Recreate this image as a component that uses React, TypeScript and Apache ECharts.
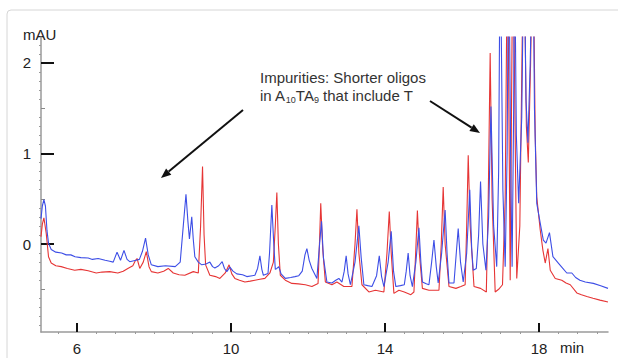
import React, { useEffect, useRef } from "react";
import * as echarts from "echarts";

// Chromatogram traces: [retention time (min), absorbance (mAU)]
const blueTrace: [number, number][] = [
  [5.065, 0.28], [5.1, 0.42], [5.14, 0.49], [5.18, 0.42], [5.22, 0.15], [5.26, 0.01], [5.33, -0.06], [5.45, -0.09],
  [5.6, -0.1], [5.72, -0.12], [5.84, -0.12], [5.95, -0.14], [6.1, -0.15], [6.29, -0.155], [6.4, -0.17], [6.55, -0.16],
  [6.73, -0.18], [6.85, -0.19], [6.94, -0.2], [7.04, -0.09], [7.13, -0.18], [7.22, -0.07], [7.3, -0.17], [7.37, -0.195],
  [7.53, -0.18], [7.62, -0.17], [7.7, -0.08], [7.78, 0.066], [7.85, -0.12], [7.93, -0.23], [8.1, -0.25], [8.3, -0.24],
  [8.55, -0.25], [8.68, -0.2], [8.76, 0.2], [8.83, 0.55], [8.88, 0.25], [8.92, 0.055], [8.98, 0.3], [9.02, 0.05],
  [9.06, -0.14], [9.15, -0.2], [9.24, -0.23], [9.35, -0.22], [9.45, -0.2], [9.52, -0.25], [9.58, -0.265], [9.68, -0.24],
  [9.77, -0.195], [9.83, -0.27], [9.89, -0.305], [9.97, -0.255], [10.05, -0.3], [10.15, -0.33], [10.3, -0.34], [10.41, -0.36],
  [10.55, -0.35], [10.62, -0.345], [10.69, -0.27], [10.75, -0.13], [10.8, -0.28], [10.84, -0.345], [10.96, -0.325], [11.0, -0.1],
  [11.06, 0.43], [11.11, 0.0], [11.15, -0.28], [11.19, -0.27], [11.24, -0.25], [11.3, -0.33], [11.41, -0.38], [11.55, -0.37],
  [11.66, -0.36], [11.76, -0.35], [11.85, -0.3], [11.92, -0.12], [11.97, -0.05], [12.03, -0.18], [12.1, -0.27], [12.23, -0.38],
  [12.3, 0.0], [12.35, 0.25], [12.4, -0.15], [12.49, -0.42], [12.62, -0.43], [12.72, -0.4], [12.8, -0.38], [12.88, -0.42],
  [12.94, -0.3], [12.99, -0.13], [13.04, -0.33], [13.1, -0.45], [13.22, -0.2], [13.32, 0.2], [13.38, -0.15], [13.45, -0.45],
  [13.55, -0.46], [13.66, -0.47], [13.78, -0.35], [13.85, -0.13], [13.91, -0.36], [13.97, -0.47], [14.08, -0.2], [14.16, 0.14],
  [14.22, -0.3], [14.28, -0.47], [14.4, -0.46], [14.5, -0.45], [14.55, -0.3], [14.6, -0.1], [14.65, -0.35], [14.71, -0.47],
  [14.8, -0.2], [14.88, 0.18], [14.93, -0.2], [14.97, -0.42], [15.07, -0.44], [15.14, -0.45], [15.21, -0.2], [15.27, 0.044],
  [15.33, -0.25], [15.38, -0.43], [15.47, -0.1], [15.56, 0.375], [15.61, -0.1], [15.66, -0.43], [15.79, -0.43], [15.85, -0.1],
  [15.9, 0.17], [15.96, -0.2], [16.03, -0.42], [16.12, -0.1], [16.2, 0.6], [16.25, -0.05], [16.29, -0.29], [16.37, -0.27],
  [16.43, 0.1], [16.48, 0.69], [16.54, 0.0], [16.62, -0.29], [16.69, 0.3], [16.75, 1.52], [16.82, 0.2], [16.9, -0.25],
  [16.95, 0.8], [16.99, 3.5], [17.06, 0.6], [17.12, -0.25], [17.17, 1.0], [17.21, 3.5], [17.27, 0.6], [17.3, -0.25],
  [17.34, 1.5], [17.36, 3.5], [17.41, 1.2], [17.47, 0.45], [17.55, 1.4], [17.61, 3.5], [17.66, 1.6], [17.71, 1.12],
  [17.77, 2.0], [17.84, 3.5], [17.88, 1.5], [17.94, 0.45], [18.03, 0.23], [18.11, 0.044], [18.18, 0.01], [18.27, 0.125],
  [18.36, -0.14], [18.5, -0.21], [18.6, -0.26], [18.72, -0.32], [18.85, -0.32], [18.95, -0.37], [19.06, -0.4], [19.2, -0.42],
  [19.41, -0.435], [19.6, -0.46], [19.79, -0.49],
];

const redTrace: [number, number][] = [
  [5.065, 0.08], [5.1, 0.22], [5.14, 0.29], [5.2, 0.12], [5.26, -0.14], [5.33, -0.21], [5.45, -0.24], [5.59, -0.25],
  [5.75, -0.27], [5.94, -0.29], [6.1, -0.28], [6.29, -0.295], [6.5, -0.32], [6.65, -0.31], [6.85, -0.305], [7.06, -0.32],
  [7.2, -0.3], [7.32, -0.27], [7.45, -0.24], [7.52, -0.18], [7.56, -0.16], [7.63, -0.27], [7.72, -0.2], [7.8, -0.085],
  [7.87, -0.25], [7.93, -0.305], [8.1, -0.32], [8.25, -0.3], [8.37, -0.27], [8.5, -0.32], [8.65, -0.34], [8.8, -0.345],
  [9.02, -0.305], [9.15, -0.32], [9.21, 0.2], [9.26, 0.855], [9.3, 0.1], [9.34, -0.23], [9.45, -0.345], [9.6, -0.36],
  [9.71, -0.38], [9.85, -0.32], [9.95, -0.23], [10.02, -0.33], [10.1, -0.38], [10.22, -0.4], [10.36, -0.42], [10.5, -0.41],
  [10.62, -0.4], [10.75, -0.39], [10.88, -0.38], [11.01, -0.32], [11.1, -0.2], [11.15, 0.2], [11.19, 0.57], [11.23, 0.0],
  [11.28, -0.345], [11.41, -0.4], [11.58, -0.435], [11.75, -0.44], [11.93, -0.45], [12.1, -0.47], [12.26, -0.435], [12.3, 0.05],
  [12.33, 0.45], [12.38, -0.05], [12.45, -0.42], [12.62, -0.45], [12.75, -0.42], [12.93, -0.47], [13.14, -0.47], [13.22, 0.0],
  [13.27, 0.385], [13.32, -0.1], [13.4, -0.45], [13.58, -0.53], [13.75, -0.51], [13.97, -0.53], [14.05, -0.1], [14.11, 0.36],
  [14.16, -0.1], [14.23, -0.545], [14.36, -0.51], [14.5, -0.53], [14.67, -0.56], [14.75, -0.53], [14.8, -0.05], [14.84, 0.37],
  [14.89, -0.1], [14.97, -0.49], [15.14, -0.51], [15.4, -0.51], [15.46, 0.0], [15.51, 0.63], [15.56, 0.0], [15.66, -0.47],
  [15.84, -0.49], [15.97, -0.47], [16.08, -0.45], [16.12, 0.2], [16.16, 0.98], [16.21, 0.2], [16.31, -0.47], [16.48, -0.49],
  [16.63, -0.53], [16.68, 0.5], [16.73, 2.11], [16.78, 0.5], [16.86, -0.53], [16.95, -0.5], [17.05, -0.45], [17.12, 0.5],
  [17.18, 3.5], [17.25, -0.4], [17.32, 3.5], [17.42, -0.38], [17.5, 0.2], [17.6, 3.5], [17.67, 1.3], [17.72, 0.9],
  [17.78, 2.0], [17.84, 3.5], [17.9, 1.2], [17.94, 0.52], [18.03, 0.155], [18.1, -0.07], [18.16, -0.21], [18.23, -0.05],
  [18.29, -0.29], [18.42, -0.38], [18.59, -0.4], [18.7, -0.43], [18.81, -0.45], [18.98, -0.54], [19.1, -0.56], [19.24, -0.58],
  [19.4, -0.6], [19.58, -0.62], [19.79, -0.64],
];

const xMajorTicks = [6, 10, 14, 18];
const xMinorTicks = [5.5, 6.5, 7, 7.5, 8, 8.5, 9, 9.5, 10.5, 11, 11.5, 12, 12.5, 13, 13.5, 14.5, 15, 15.5, 16, 16.5, 17, 17.5, 18.5, 19, 19.5];
const yMajorTicks = [0, 1, 2];
const yMediumTicks = [-0.5, 0.5, 1.5];
const yMinorTicks = [-0.9, -0.8, -0.7, -0.6, -0.4, -0.3, -0.2, -0.1, 0.1, 0.2, 0.3, 0.4, 0.6, 0.7, 0.8, 0.9, 1.1, 1.2, 1.3, 1.4, 1.6, 1.7, 1.8, 1.9, 2.1, 2.2];

const X_MIN = 5.065;
const X_MAX = 19.79;
const Y_MIN = -0.972;
const Y_MAX = 2.287;

const FONT = "Liberation Sans";

export default function App() {
  const ref = useRef<HTMLDivElement>(null);

  useEffect(() => {
    if (!ref.current) return;
    const chart = echarts.init(ref.current, undefined, { renderer: "svg" });

    const axisLineStyle = { color: "#9a9a9a", width: 1.5 };

    chart.setOption({
      animation: false,
      backgroundColor: "#ffffff",
      grid: { left: 41, right: 10, top: 37, bottom: 26, containLabel: false },
      xAxis: [
        {
          type: "value",
          min: X_MIN,
          max: X_MAX,
          position: "bottom",
          axisLine: { show: true, onZero: false, lineStyle: axisLineStyle },
          axisTick: { show: true, inside: true, length: 9, customValues: xMajorTicks, lineStyle: { color: "#111", width: 2 } },
          axisLabel: { show: true, customValues: xMajorTicks, margin: 9, fontSize: 15, fontFamily: FONT, color: "#222" },
          splitLine: { show: false },
        },
        {
          type: "value",
          min: X_MIN,
          max: X_MAX,
          position: "bottom",
          axisLine: { show: false, onZero: false },
          axisTick: { show: true, inside: false, length: 2, customValues: xMinorTicks, lineStyle: { color: "#999", width: 1 } },
          axisLabel: { show: false },
          splitLine: { show: false },
        },
      ],
      yAxis: [
        {
          type: "value",
          min: Y_MIN,
          max: Y_MAX,
          position: "left",
          axisLine: { show: true, onZero: false, lineStyle: axisLineStyle },
          axisTick: { show: true, inside: true, length: 13, customValues: yMajorTicks, lineStyle: { color: "#111", width: 2 } },
          axisLabel: { show: true, customValues: yMajorTicks, margin: 10, fontSize: 15, fontFamily: FONT, color: "#222" },
          splitLine: { show: false },
        },
        {
          type: "value",
          min: Y_MIN,
          max: Y_MAX,
          position: "left",
          axisLine: { show: false, onZero: false },
          axisTick: { show: true, inside: false, length: 2, customValues: yMinorTicks, lineStyle: { color: "#999", width: 1 } },
          axisLabel: { show: false },
          splitLine: { show: false },
        },
        {
          type: "value",
          min: Y_MIN,
          max: Y_MAX,
          position: "left",
          axisLine: { show: false, onZero: false },
          axisTick: { show: true, inside: true, length: 4, customValues: yMediumTicks, lineStyle: { color: "#888", width: 1 } },
          axisLabel: { show: false },
          splitLine: { show: false },
        },
      ],
      series: [
        {
          name: "blue",
          type: "line",
          data: blueTrace,
          showSymbol: false,
          symbol: "none",
          clip: true,
          lineStyle: { color: "#3d4ee6", width: 1.1 },
          z: 3,
        },
        {
          name: "red",
          type: "line",
          data: redTrace,
          showSymbol: false,
          symbol: "none",
          clip: true,
          lineStyle: { color: "#e63535", width: 1.1 },
          z: 2,
        },
      ],
      graphic: [
        {
          type: "rect",
          z: -10,
          silent: true,
          shape: { x: 7, y: 10, width: 660, height: 400, r: 4 },
          style: { fill: "none", stroke: "#d6d6d6", lineWidth: 1 },
        },
        {
          type: "text",
          x: 23,
          y: 34,
          style: { text: "mAU", fontSize: 15, fontFamily: FONT, fill: "#222", verticalAlign: "middle", align: "left" },
        },
        {
          type: "text",
          x: 560,
          y: 347,
          style: { text: "min", fontSize: 15, fontFamily: FONT, fill: "#222", verticalAlign: "middle", align: "left" },
        },
        {
          type: "text",
          x: 260,
          y: 69,
          style: {
            text: "Impurities: Shorter oligos\nin A{sub|10}TA{sub|9} that include T",
            fontSize: 15,
            fontFamily: FONT,
            fill: "#333",
            lineHeight: 17.5,
            align: "left",
            verticalAlign: "top",
            rich: {
              sub: { fontSize: 9, fontFamily: FONT, fill: "#333", verticalAlign: "bottom", lineHeight: 10 },
            },
          },
        },
        {
          type: "line",
          shape: { x1: 243, y1: 110, x2: 168.7, y2: 171.6 },
          style: { stroke: "#111", lineWidth: 2 },
        },
        {
          type: "polygon",
          shape: { points: [[161, 178], [171.3, 174.7], [166.1, 168.5]] },
          style: { fill: "#111" },
        },
        {
          type: "line",
          shape: { x1: 430, y1: 101, x2: 471.6, y2: 127.6 },
          style: { stroke: "#111", lineWidth: 2 },
        },
        {
          type: "polygon",
          shape: { points: [[480, 133], [469.4, 131], [473.8, 124.2]] },
          style: { fill: "#111" },
        },
      ],
    });

    return () => {
      chart.dispose();
    };
  }, []);

  return (
    <div
      ref={ref}
      style={{ position: "fixed", left: 0, top: 0, width: 618, height: 358, background: "#fff" }}
    />
  );
}
